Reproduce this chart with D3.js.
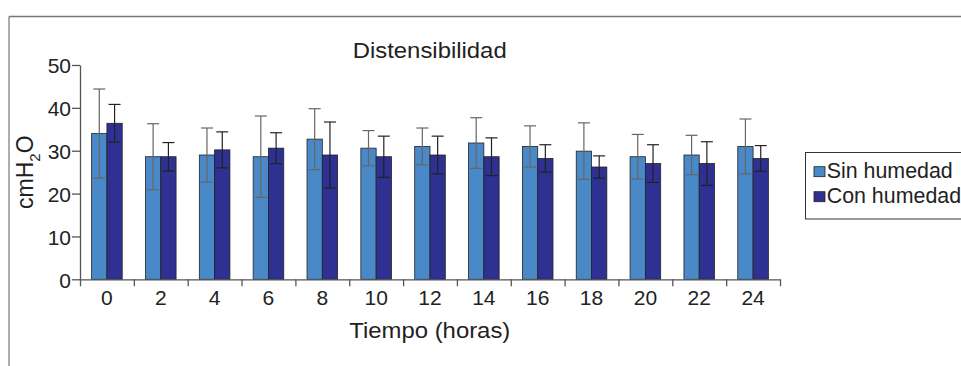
<!DOCTYPE html>
<html>
<head>
<meta charset="utf-8">
<script src="https://cdn.jsdelivr.net/npm/d3@7"></script>
<style>
  body { margin: 0; background: #fff; }
  svg { display: block; font-family: "Liberation Sans", Arial, sans-serif; }
</style>
</head>
<body>
<div id="chart"></div>
<script>
// data
let hours = ["0", "2", "4", "6", "8", "10", "12", "14", "16", "18", "20", "22", "24"];
let seriesNames = ["Sin humedad", "Con humedad"];
let sinHumedad = [34.0, 28.6, 29.0, 28.6, 32.7, 30.6, 31.0, 31.8, 31.0, 29.9, 28.6, 29.0, 31.0];
let sinError   = [10.4, 7.7, 6.3, 9.5, 7.1, 4.1, 4.3, 5.9, 4.8, 6.6, 5.2, 4.6, 6.4];
let conHumedad = [36.4, 28.6, 30.2, 30.6, 29.0, 28.6, 29.0, 28.6, 28.2, 26.2, 27.0, 27.0, 28.2];
let conError   = [4.4, 3.3, 4.2, 3.6, 7.7, 4.8, 4.4, 4.4, 3.2, 2.6, 4.4, 5.1, 3.0];
let yTicks = [0, 10, 20, 30, 40, 50];

let svgWidth = 961;
let svgHeight = 366;

let margin = { top: 65, left: 80 };
let width = 700;
let height = 214.3;

let colors = { "Sin humedad": "#4a89c8", "Con humedad": "#2e3192" };
let errColors = { "Sin humedad": "#666", "Con humedad": "#222" };

let svg = d3.select("#chart")
    .append("svg")
    .attr("width", svgWidth)
    .attr("height", svgHeight);

// outer frame (top + left edges only visible)
svg.append("line")
    .attr("x1", 9).attr("x2", svgWidth).attr("y1", 16.5).attr("y2", 16.5)
    .attr("stroke", "#777").attr("stroke-width", 1.5);
svg.append("line")
    .attr("x1", 9).attr("x2", 9).attr("y1", 16.5).attr("y2", svgHeight)
    .attr("stroke", "#777").attr("stroke-width", 1.2);

let chartGroup = svg.append("g")
    .attr("transform", `translate(${margin.left}, ${margin.top})`);

// scales
let x0 = d3.scaleBand()
    .domain(hours)
    .range([0, width])
    .padding(0);

let x1 = d3.scaleBand()
    .domain(seriesNames)
    .range([0, x0.bandwidth()])
    .paddingInner(0)
    .paddingOuter(0.76);

let yLinearScale = d3.scaleLinear()
    .domain([0, 50])
    .range([height, 0]);

// rows for drawing
let rows = [];
hours.forEach(function (h, i) {
    rows.push({ hour: h, key: "Sin humedad", value: sinHumedad[i], err: sinError[i] });
    rows.push({ hour: h, key: "Con humedad", value: conHumedad[i], err: conError[i] });
});

// bars
chartGroup.selectAll("rect.bar")
    .data(rows)
    .enter()
    .append("rect")
    .attr("class", "bar")
    .attr("x", d => x0(d.hour) + x1(d.key))
    .attr("y", d => yLinearScale(d.value))
    .attr("width", x1.bandwidth())
    .attr("height", d => height - yLinearScale(d.value))
    .attr("fill", d => colors[d.key])
    .attr("stroke", "#222")
    .attr("stroke-width", 0.8);

// error bars
let capHalf = 6;
let errGroup = chartGroup.selectAll("g.err")
    .data(rows)
    .enter()
    .append("g")
    .attr("class", "err")
    .attr("stroke", d => errColors[d.key])
    .attr("stroke-width", 1.2);

errGroup.append("line")
    .attr("x1", d => x0(d.hour) + x1(d.key) + x1.bandwidth() / 2)
    .attr("x2", d => x0(d.hour) + x1(d.key) + x1.bandwidth() / 2)
    .attr("y1", d => yLinearScale(d.value + d.err))
    .attr("y2", d => yLinearScale(d.value - d.err));

errGroup.append("line")
    .attr("x1", d => x0(d.hour) + x1(d.key) + x1.bandwidth() / 2 - capHalf)
    .attr("x2", d => x0(d.hour) + x1(d.key) + x1.bandwidth() / 2 + capHalf)
    .attr("y1", d => yLinearScale(d.value + d.err))
    .attr("y2", d => yLinearScale(d.value + d.err));

errGroup.append("line")
    .attr("x1", d => x0(d.hour) + x1(d.key) + x1.bandwidth() / 2 - capHalf)
    .attr("x2", d => x0(d.hour) + x1(d.key) + x1.bandwidth() / 2 + capHalf)
    .attr("y1", d => yLinearScale(d.value - d.err))
    .attr("y2", d => yLinearScale(d.value - d.err));

// y axis
let leftAxis = d3.axisLeft(yLinearScale)
    .tickValues(yTicks)
    .tickSize(8)
    .tickPadding(1)
    .tickSizeOuter(0);

let yAxis = chartGroup.append("g").call(leftAxis);
yAxis.select(".domain").attr("stroke", "#555").attr("stroke-width", 1.3);
yAxis.selectAll(".tick line").attr("stroke", "#555").attr("stroke-width", 1.3);
yAxis.selectAll(".tick text")
    .attr("font-size", "21px")
    .attr("fill", "#222")
    .attr("dy", "0.38em");

// x axis: boundary ticks
let boundaryScale = d3.scaleLinear().domain([0, hours.length]).range([0, width]);
let boundaryAxis = d3.axisBottom(boundaryScale)
    .tickValues(d3.range(0, hours.length + 1))
    .tickSize(7)
    .tickSizeOuter(0)
    .tickFormat("");

let xAxis = chartGroup.append("g")
    .attr("transform", `translate(0, ${height})`)
    .call(boundaryAxis);
xAxis.select(".domain").attr("stroke", "#555").attr("stroke-width", 1.3);
xAxis.selectAll(".tick line").attr("stroke", "#555").attr("stroke-width", 1.3);

// x axis: category labels
let bottomAxis = d3.axisBottom(x0).tickSize(0).tickPadding(11);
let xLabels = chartGroup.append("g")
    .attr("transform", `translate(0, ${height})`)
    .call(bottomAxis);
xLabels.select(".domain").remove();
xLabels.selectAll(".tick text")
    .attr("font-size", "21px")
    .attr("fill", "#222");

// title
svg.append("text")
    .attr("x", 352.7)
    .attr("y", 58.3)
    .attr("font-size", "22px")
    .attr("fill", "#222")
    .attr("textLength", 154)
    .attr("lengthAdjust", "spacingAndGlyphs")
    .text("Distensibilidad");

// x axis label
svg.append("text")
    .attr("x", 349.3)
    .attr("y", 338.3)
    .attr("font-size", "22px")
    .attr("fill", "#222")
    .attr("textLength", 161)
    .attr("lengthAdjust", "spacingAndGlyphs")
    .text("Tiempo (horas)");

// y axis label cmH2O
let yLabel = svg.append("text")
    .attr("transform", `translate(33, ${margin.top + height / 2}) rotate(-90)`)
    .attr("text-anchor", "middle")
    .attr("font-size", "23px")
    .attr("fill", "#222");
yLabel.append("tspan").text("cmH");
yLabel.append("tspan").attr("font-size", "15px").attr("dy", 7).text("2");
yLabel.append("tspan").attr("dy", -7).text("O");

// legend
let legend = svg.append("g");
legend.append("rect")
    .attr("x", 805.5)
    .attr("y", 152.5)
    .attr("width", 200)
    .attr("height", 66.5)
    .attr("fill", "#fff")
    .attr("stroke", "#333")
    .attr("stroke-width", 1);

let legendItems = legend.selectAll("g.item")
    .data(seriesNames)
    .enter()
    .append("g")
    .attr("class", "item")
    .attr("transform", (d, i) => `translate(814, ${166.7 + i * 25})`);

legendItems.append("rect")
    .attr("width", 11)
    .attr("height", 10)
    .attr("fill", d => colors[d])
    .attr("stroke", "#222")
    .attr("stroke-width", 0.8);

legendItems.append("text")
    .attr("x", 12.7)
    .attr("y", 11.6)
    .attr("font-size", "21.4px")
    .attr("fill", "#222")
    .text(d => d);
</script>
</body>
</html>
